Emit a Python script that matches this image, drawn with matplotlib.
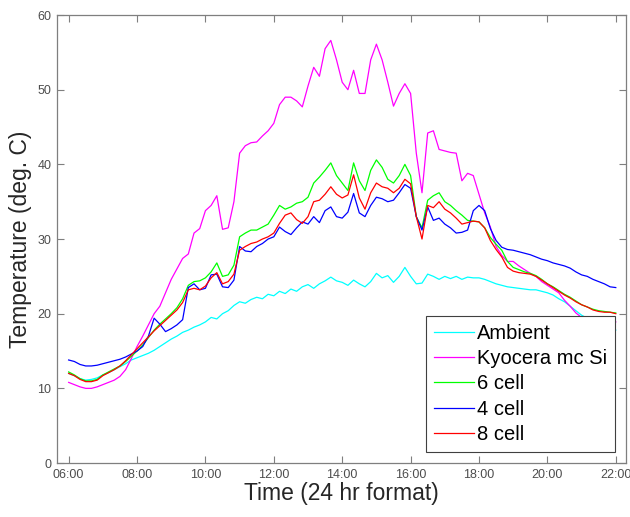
import numpy as np
import matplotlib
matplotlib.use('Agg')
import matplotlib.pyplot as plt

plt.rcParams['font.family'] = ['Liberation Sans', 'DejaVu Sans']

# --- Data: 10 minute samples from 06:00 to 22:00 ---
hours = np.arange(97) / 6.0 + 6.0

ambient = [12.0, 11.7, 11.3, 11.1, 11.2, 11.4, 11.8, 12.1, 12.5, 12.9, 13.3, 13.8,
           14.1, 14.4, 14.7, 15.1, 15.6, 16.1, 16.6, 17.0, 17.5, 17.8, 18.2, 18.5,
           18.9, 19.5, 19.3, 20.0, 20.4, 21.1, 21.6, 21.4, 21.9, 22.2, 22.0, 22.6,
           22.4, 23.0, 22.7, 23.3, 23.0, 23.6, 23.9, 23.4, 24.0, 24.4, 24.9, 24.4,
           24.2, 23.8, 24.5, 24.0, 23.6, 24.3, 25.4, 24.8, 25.1, 24.2, 25.0, 26.2,
           25.0, 24.0, 24.1, 25.3, 25.0, 24.6, 25.0, 24.7, 25.0, 24.6, 24.9, 24.8,
           24.8, 24.6, 24.3, 24.0, 23.8, 23.6, 23.5, 23.4, 23.3, 23.2, 23.2, 23.0,
           22.8, 22.5, 22.0, 21.6, 21.0, 20.4, 19.8, 19.4, 19.0, 18.7, 18.4, 18.1,
           17.8]

kyocera = [10.8, 10.5, 10.2, 10.0, 10.0, 10.2, 10.5, 10.8, 11.1, 11.6, 12.5, 14.0,
           15.6, 17.0, 18.5, 20.0, 21.0, 22.8, 24.6, 26.0, 27.4, 28.0, 30.8, 31.4,
           33.8, 34.5, 35.8, 31.3, 31.5, 35.0, 41.5, 42.5, 42.9, 43.0, 43.8, 44.5,
           45.5, 48.0, 49.0, 49.0, 48.5, 47.7, 50.5, 53.0, 51.8, 55.5, 56.6, 54.0,
           51.0, 50.0, 52.6, 49.5, 49.5, 54.0, 56.1, 54.0, 51.0, 47.8, 49.5, 50.8,
           49.5, 41.5, 36.2, 44.2, 44.5, 42.0, 41.8, 41.6, 41.5, 37.8, 38.8, 38.5,
           36.0, 33.5, 31.6, 29.0, 27.8, 27.0, 27.0, 26.4, 25.9, 25.4, 25.0, 24.3,
           23.8, 23.3, 22.8, 21.8, 21.0, 20.1, 19.5, 19.2, 19.0, 18.9, 18.9, 18.9,
           18.9]

cell6 = [12.2, 11.8, 11.3, 11.0, 11.0, 11.2, 11.8, 12.2, 12.6, 13.0, 13.6, 14.3,
         15.0, 15.8, 16.8, 17.8, 18.6, 19.3, 20.0, 20.8, 22.0, 23.8, 24.3, 24.4,
         24.8, 25.6, 26.8, 25.0, 25.2, 26.5, 30.3, 30.8, 31.2, 31.2, 31.6, 32.0,
         33.2, 34.5, 34.0, 34.3, 34.8, 35.0, 35.6, 37.5, 38.3, 39.2, 40.2, 38.5,
         37.5, 36.5, 40.2, 37.8, 36.5, 39.2, 40.6, 39.6, 38.0, 37.5, 38.5, 40.0,
         38.5, 33.0, 31.5, 35.2, 35.8, 36.2, 35.0, 34.5, 33.8, 33.2, 32.5, 32.4,
         32.3, 31.5, 30.2, 29.3, 28.5, 27.0, 26.2, 25.9, 25.6, 25.4, 25.1, 24.6,
         24.0, 23.6, 23.1, 22.6, 22.2, 21.7, 21.2, 20.9, 20.6, 20.4, 20.3, 20.2,
         20.1]

cell4 = [13.8, 13.6, 13.2, 13.0, 13.0, 13.1, 13.3, 13.5, 13.7, 13.9, 14.2, 14.6,
         15.0, 15.6, 17.0, 19.4, 18.6, 17.6, 18.0, 18.5, 19.2, 23.5, 24.0, 23.2,
         23.4, 25.2, 25.3, 23.6, 23.5, 24.5, 29.0, 28.4, 28.3, 29.0, 29.4, 30.0,
         30.3, 31.6, 31.0, 30.6, 31.5, 32.3, 32.0, 33.0, 32.2, 33.8, 34.3, 33.0,
         32.8, 33.6, 36.1, 33.5, 33.0, 34.5, 35.6, 35.4, 35.0, 35.2, 36.2, 37.3,
         36.8, 33.0, 31.2, 34.3, 32.5, 32.8, 32.0, 31.5, 30.8, 30.9, 31.2, 33.8,
         34.5, 33.8, 31.4, 29.8, 28.9, 28.6, 28.5, 28.3, 28.1, 27.9, 27.6, 27.3,
         27.1, 26.8, 26.6, 26.4, 26.1, 25.6, 25.2, 25.0, 24.6, 24.3, 24.0, 23.6,
         23.5]

cell8 = [12.0, 11.7, 11.2, 10.9, 10.9, 11.1, 11.7, 12.1, 12.5, 13.0, 13.7, 14.5,
         15.3, 16.1, 16.9, 17.7, 18.4, 19.1, 19.8, 20.5, 21.5, 23.2, 23.4, 23.2,
         23.7, 24.8, 25.5, 24.0, 24.3, 25.3, 28.5, 29.0, 29.4, 29.6, 30.0, 30.3,
         30.8, 32.1, 33.2, 33.5, 32.6, 32.1, 33.0, 35.0, 35.2, 36.0, 37.0, 36.0,
         35.5, 35.9, 38.6, 35.5, 34.0, 36.2, 37.5, 37.0, 36.8, 36.2, 36.8, 38.0,
         37.4, 33.0, 30.0, 34.5, 34.2, 35.0, 34.0, 33.5, 32.8, 32.0, 32.2, 32.4,
         32.3, 31.5, 29.8, 28.6, 27.6, 26.2, 25.7, 25.5, 25.4, 25.3, 25.0, 24.5,
         24.0, 23.5, 23.0, 22.5, 22.1, 21.6, 21.2, 20.9, 20.5, 20.3, 20.2, 20.2,
         20.0]

series = [('Ambient', ambient, '#00FFFF'),
          ('Kyocera mc Si', kyocera, '#FF00FF'),
          ('6 cell', cell6, '#00FF00'),
          ('4 cell', cell4, '#0000FF'),
          ('8 cell', cell8, '#FF0000')]

tick_hours = [6, 8, 10, 12, 14, 16, 18, 20, 22]
tick_labels = ['06:00', '08:00', '10:00', '12:00', '14:00', '16:00', '18:00', '20:00', '22:00']

# --- Plot ---
fig = plt.figure(figsize=(6.3, 5.17), dpi=100)
ax = fig.add_axes([0.0905, 0.1044, 0.9032, 0.8665])

for name, vals, col in series:
    ax.plot(hours, vals, color=col, lw=0.9, label=name)

ax.set_xlim(5.66, 22.3)
ax.set_ylim(0, 60)
ax.set_xticks(tick_hours)
ax.set_xticklabels(tick_labels)
ax.set_yticks(range(0, 61, 10))

for sp in ax.spines.values():
    sp.set_color('#7f7f7f')
    sp.set_linewidth(0.9)
ax.tick_params(direction='in', length=5, width=0.8, color='#7f7f7f',
               labelcolor='#4d4d4d', labelsize=9, top=True, right=True, pad=4)

ax.set_xlabel('Time (24 hr format)', fontsize=16.5, color='#262626', labelpad=1)
ax.set_ylabel('Temperature (deg. C)', fontsize=16.5, color='#262626', labelpad=4)

leg = ax.legend(loc='lower right', fontsize=14.5, frameon=True, fancybox=False,
                edgecolor='#404040', framealpha=1, labelspacing=0.31,
                handlelength=1.95, handletextpad=0.15, borderpad=0.4,
                borderaxespad=0.55)
leg.get_frame().set_linewidth(0.8)

fig.savefig('out.png', dpi=100)
